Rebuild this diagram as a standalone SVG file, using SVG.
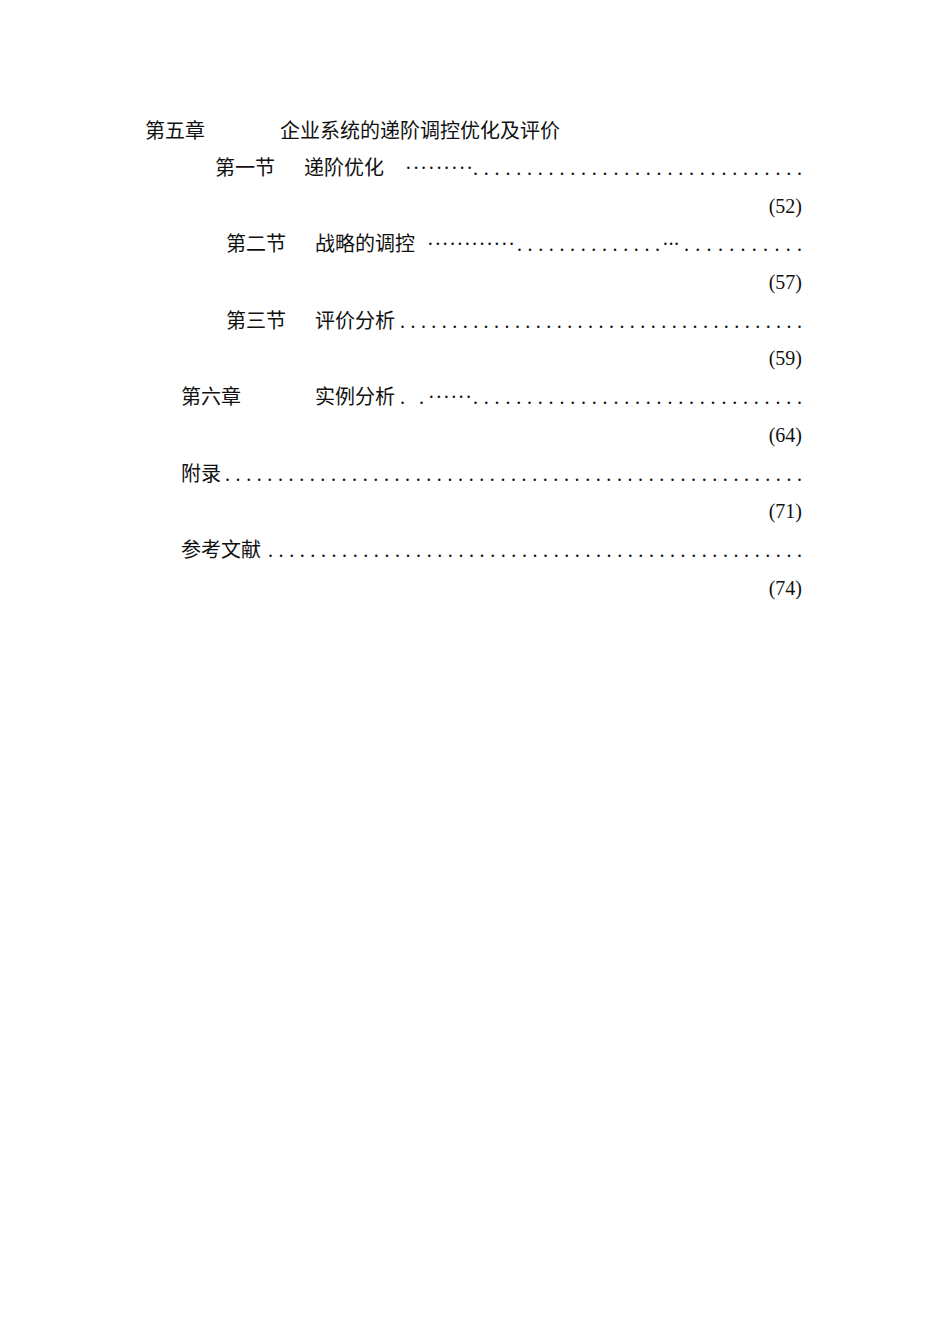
<svg xmlns="http://www.w3.org/2000/svg" width="950" height="1344" viewBox="0 0 950 1344">
<style>
text{font-family:"Noto Sans CJK SC","Liberation Serif",serif;font-size:20px;fill:#111}
.d{font-family:"Liberation Serif",serif}
.p{font-family:"Liberation Serif",serif;text-anchor:end}
</style>
<rect width="950" height="1344" fill="#fff"/>
<text x="145" y="138">第五章</text>
<text x="280" y="138">企业系统的递阶调控优化及评价</text>
<text x="215" y="175">第一节</text>
<text x="304" y="175">递阶优化</text>
<text class="d" x="405" y="175" textLength="68" lengthAdjust="spacing">·········</text>
<text class="d" x="473" y="175" textLength="329" lengthAdjust="spacing">...............................</text>
<text class="p" x="802" y="213">(52)</text>
<text x="226" y="251">第二节</text>
<text x="315" y="251">战略的调控</text>
<text class="d" x="427" y="251" textLength="88" lengthAdjust="spacing">············</text>
<text class="d" x="517" y="251" textLength="143" lengthAdjust="spacing">..............</text>
<text class="d" x="662" y="251" textLength="18" lengthAdjust="spacing">···</text>
<text class="d" x="684" y="251" textLength="118" lengthAdjust="spacing">...........</text>
<text class="p" x="802" y="289">(57)</text>
<text x="226" y="328">第三节</text>
<text x="315" y="328">评价分析</text>
<text class="d" x="400" y="328" textLength="402" lengthAdjust="spacing">.......................................</text>
<text class="p" x="802" y="365">(59)</text>
<text x="181" y="404">第六章</text>
<text x="315" y="404">实例分析</text>
<text class="d" x="400" y="404" textLength="24" lengthAdjust="spacing">..</text>
<text class="d" x="428" y="404" textLength="44" lengthAdjust="spacing">······</text>
<text class="d" x="473" y="404" textLength="329" lengthAdjust="spacing">...............................</text>
<text class="p" x="802" y="442">(64)</text>
<text x="181" y="481">附录</text>
<text class="d" x="225" y="481" textLength="577" lengthAdjust="spacing">.......................................................</text>
<text class="p" x="802" y="518">(71)</text>
<text x="181" y="557">参考文献</text>
<text class="d" x="268" y="557" textLength="534" lengthAdjust="spacing">...................................................</text>
<text class="p" x="802" y="595">(74)</text>
</svg>
